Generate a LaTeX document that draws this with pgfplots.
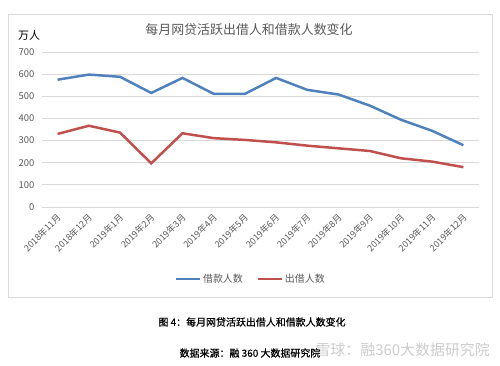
\documentclass[border=0pt]{standalone}
\usepackage{pgfplots}
\pgfplotsset{compat=1.18}
\usepackage{fontspec}
\setmainfont{Noto Sans CJK SC}
\newfontfamily\capfont[FakeBold=0.8]{Noto Sans CJK SC}
\definecolor{bl}{HTML}{4F81BD}
\definecolor{rd}{HTML}{C0504D}
\definecolor{txt}{HTML}{595959}
\begin{document}
\begin{tikzpicture}[x=1bp,y=1bp]
\path (0,0) rectangle (500,365);
\draw[color=black!15, line width=0.8bp] (8,68) rectangle (492,351);
\node[text=txt, font=\fontsize{13}{13}\selectfont] at (249,335) {每月网贷活跃出借人和借款人数变化};
\node[font=\fontsize{11}{11}\selectfont] at (29,330) {万人};
\begin{axis}[
  at={(42bp,158bp)}, anchor=south west, scale only axis,
  width=437bp, height=155bp,
  xmin=-0.5, xmax=13.5, ymin=0, ymax=700,
  ytick={0,100,...,700},
  ymajorgrids, grid style={black!15, line width=0.8bp},
  axis line style={draw=none}, major tick length=0,
  /pgf/number format/assume math mode=true,
  yticklabel style={text=txt, font=\fontsize{9.5}{9.5}\selectfont, xshift=-4bp},
  xtick={0,...,13},
  xticklabels={2018年11月,2018年12月,2019年1月,2019年2月,2019年3月,2019年4月,2019年5月,2019年6月,2019年7月,2019年8月,2019年9月,2019年10月,2019年11月,2019年12月},
  xticklabel style={rotate=45, anchor=north east, text=txt, font=\fontsize{9}{9}\selectfont, yshift=-2bp, xshift=-4bp, inner sep=1bp},
  legend style={at={(0.478,-0.465)}, anchor=center, draw=none, fill=none, font=\fontsize{10}{10}\selectfont, text=txt, legend columns=2, /tikz/every even column/.append style={column sep=12bp}},
  legend image code/.code={\draw[#1, line width=2bp] (0bp,0bp) -- (24bp,0bp);},
]
\addplot[color=bl, line width=2.5bp] coordinates {(0,575) (1,598) (2,588) (3,515) (4,583) (5,511) (6,511) (7,583) (8,529) (9,508) (10,458) (11,394) (12,344) (13,279)};
\addlegendentry{借款人数}
\addplot[color=rd, line width=2.5bp] coordinates {(0,330) (1,367) (2,336) (3,197) (4,333) (5,311) (6,303) (7,292) (8,277) (9,265) (10,253) (11,220) (12,205) (13,180)};
\addlegendentry{出借人数}
\end{axis}
\node[font=\fontsize{10}{10}\selectfont\capfont] at (252,43) {图 4：每月网贷活跃出借人和借款人数变化};
\node[text=black!20, font=\fontsize{15}{15}\selectfont, anchor=west] at (312,15) {雪球：融360大数据研究院};
\node[font=\fontsize{10}{10}\selectfont\capfont] at (250,12) {数据来源：融 360 大数据研究院};
\end{tikzpicture}
\end{document}
